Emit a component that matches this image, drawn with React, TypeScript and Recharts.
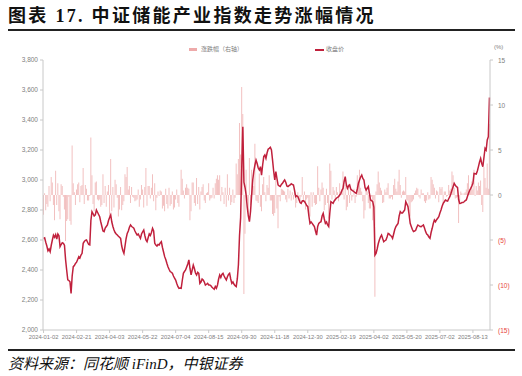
import { ComposedChart, Bar, Line, XAxis, YAxis } from 'recharts';

// 每 30 个交易日一个刻度
const tickLabels = [
  '2024-01-02', '2024-02-21', '2024-04-03', '2024-05-22', '2024-07-04', '2024-08-15', '2024-09-30',
  '2024-11-18', '2024-12-30', '2025-02-19', '2025-04-02', '2025-05-20', '2025-07-02', '2025-08-13',
];

// 收盘价（左轴）
const closeValues = [
  2610, 2614, 2585, 2560, 2528, 2540, 2522, 2565, 2600, 2632,
  2618, 2636, 2606, 2640, 2628, 2556, 2570, 2582, 2578, 2565,
  2470, 2400, 2335, 2330, 2322, 2244, 2360, 2422, 2430, 2444,
  2452, 2470, 2489, 2480, 2500, 2511, 2578, 2590, 2598, 2600,
  2585, 2570, 2567, 2730, 2789, 2775, 2760, 2767, 2800, 2785,
  2770, 2755, 2720, 2690, 2660, 2656, 2680, 2690, 2700, 2730,
  2750, 2767, 2720, 2690, 2667, 2650, 2640, 2633, 2625, 2618,
  2611, 2560, 2530, 2511, 2560, 2610, 2644, 2660, 2685, 2700,
  2690, 2685, 2678, 2660, 2645, 2633, 2640, 2625, 2611, 2640,
  2655, 2667, 2630, 2600, 2589, 2615, 2640, 2630, 2650, 2678,
  2660, 2578, 2567, 2560, 2570, 2567, 2580, 2589, 2550, 2520,
  2489, 2470, 2445, 2422, 2405, 2390, 2385, 2378, 2360, 2345,
  2333, 2310, 2290, 2278, 2280, 2278, 2330, 2378, 2390, 2400,
  2420, 2440, 2467, 2410, 2367, 2400, 2433, 2410, 2380, 2367,
  2385, 2378, 2311, 2320, 2340, 2333, 2320, 2300, 2305, 2311,
  2300, 2300, 2295, 2285, 2278, 2272, 2290, 2278, 2300, 2340,
  2367, 2350, 2370, 2378, 2360, 2345, 2333, 2355, 2370, 2378,
  2340, 2311, 2320, 2305, 2295, 2289, 2342, 2435, 2630, 2749,
  3078, 3355, 2986, 2950, 2900, 2820, 2760, 2722, 2790, 2900,
  3000, 3060, 3100, 3133, 3110, 3080, 3067, 3089, 3033, 3100,
  3156, 3167, 3144, 3180, 3205, 3211, 3218, 3200, 3133, 3060,
  3000, 3056, 3010, 2967, 2960, 2956, 2970, 2978, 2990, 3000,
  2985, 2960, 2956, 2962, 2967, 2975, 2970, 2967, 2930, 2889,
  2895, 2889, 2870, 2850, 2844, 2860, 2862, 2856, 2845, 2830,
  2822, 2760, 2711, 2720, 2711, 2700, 2689, 2660, 2633, 2690,
  2711, 2718, 2722, 2760, 2778, 2740, 2711, 2720, 2700, 2689,
  2780, 2856, 2850, 2844, 2860, 2870, 2878, 2885, 2889, 2900,
  2911, 2930, 2944, 2990, 3022, 2970, 2944, 2960, 2967, 2940,
  2933, 2928, 2922, 2915, 2911, 2940, 2978, 3000, 3020, 3033,
  3010, 3000, 2950, 2933, 2945, 2956, 2910, 2867, 2862, 2856,
  2820, 2500, 2511, 2540, 2575, 2600, 2620, 2633, 2610, 2589,
  2595, 2600, 2620, 2644, 2640, 2630, 2625, 2611, 2640, 2670,
  2689, 2700, 2711, 2760, 2789, 2780, 2780, 2790, 2800, 2856,
  2840, 2822, 2770, 2711, 2690, 2670, 2656, 2660, 2665, 2685,
  2700, 2695, 2690, 2689, 2695, 2700, 2680, 2656, 2640, 2633,
  2620, 2611, 2650, 2678, 2710, 2733, 2722, 2735, 2745, 2756,
  2780, 2800, 2825, 2844, 2855, 2867, 2862, 2860, 2875, 2889,
  2910, 2933, 2955, 2978, 2965, 2956, 2950, 2870, 2844, 2845,
  2850, 2850, 2855, 2862, 2867, 2890, 2911, 2930, 2944, 2960,
  2978, 3044, 3042, 3040, 3060, 3089, 3120, 3144, 3110, 3089,
  3150, 3211, 3200, 3267, 3289, 3550,
];

// 涨跌幅 %（右轴）
const changeValues = [
  -2.2, 0.2, -1.7, -1.0, -1.3, 1.0, -0.7, 2.0, 1.4, -1.1,
  -2.8, 2.7, -1.1, 1.3, -1.8, -2.7, 1.2, 1.0, -0.2, -1.6,
  -5.1, -2.9, -2.7, -0.2, -2.9, -3.3, 5.5, 1.3, 0.3, -1.1,
  0.6, 1.2, 1.4, -0.8, 1.0, 1.1, 3.0, -1.0, 1.1, 0.7,
  -0.6, -0.6, -0.1, 6.4, 2.2, -1.0, -1.8, 1.4, 1.5, -0.5,
  -0.6, -0.5, -1.3, -1.1, 2.3, -0.9, 1.0, -1.3, 0.4, 1.1,
  -2.4, 4.0, -1.8, 0.9, -1.4, 1.7, 1.2, -0.3, -2.4, -1.6,
  0.9, -1.7, -1.1, -0.7, 2.3, 2.0, 3.1, 0.6, 1.0, -0.9,
  0.9, -0.2, -0.3, -0.7, -0.6, -0.5, 0.6, -1.3, -0.5, 1.1,
  0.6, -1.4, 0.9, 3.0, -1.2, 1.0, 1.0, -0.4, 0.8, 2.3,
  -0.7, 1.3, -1.7, -0.3, 0.4, -0.1, 0.5, 0.4, -1.5, -1.2,
  -1.8, 0.7, -1.0, -1.5, 0.8, -1.2, -1.0, 0.4, -1.6, -1.4,
  -0.5, 0.6, -0.9, -1.3, 0.0, 2.8, 1.8, 0.5, -0.4, 0.8,
  1.2, 0.8, 0.7, -2.8, -1.8, 1.4, 1.4, -0.9, -1.2, 1.9,
  -1.0, 0.9, -1.6, 0.4, 0.9, 1.2, -0.6, -0.9, 0.2, 0.3,
  1.3, -0.6, -0.4, -0.3, 0.8, -0.4, 1.3, 1.8, 2.2, 1.7,
  2.2, -0.7, 0.9, 0.3, -1.0, 0.8, -1.3, 2.3, -0.6, 0.8,
  -1.1, -0.8, 0.6, -0.9, -0.3, 3.5, 2.3, 4.0, 8.0, 4.5,
  12.0, 9.0, -11.0, -4.3, 2.8, -0.6, -2.1, 4.1, -1.1, 2.8,
  1.2, 1.0, 5.7, -0.6, -0.7, -0.9, 2.4, -1.3, -1.8, 1.2,
  2.0, 0.3, -0.7, 1.1, 0.8, 2.2, -0.6, -0.6, -2.1, -2.3,
  -2.0, 1.9, -1.5, -3.7, -0.2, -0.7, 0.7, 0.6, 0.5, 0.4,
  -0.5, -0.8, 0.7, -0.4, 0.5, -0.6, 0.3, -0.5, 0.4, -1.4,
  -0.9, 0.3, -0.6, -0.7, -0.2, 2.0, -0.5, 0.4, -1.6, -0.5,
  -0.3, -2.2, -2.4, 0.3, -1.3, 0.3, -0.9, -1.1, -1.0, 3.2,
  0.8, -0.7, 0.6, 1.4, 0.8, -1.7, -1.1, 0.7, -0.9, -2.6,
  3.5, 2.7, -0.5, 0.9, 0.5, -0.6, 0.9, 0.3, -0.7, 1.3,
  0.4, 0.7, 2.6, -0.5, 1.1, -1.7, -1.3, 1.2, -0.9, 0.6,
  -0.6, -0.2, 0.7, -0.9, -0.2, 2.2, 1.3, 2.8, 0.8, 0.4,
  -0.7, -2.6, -1.7, 0.9, 0.4, -0.9, -1.5, -1.5, -0.2, -2.8,
  -0.6, -11.3, 0.4, 1.2, 2.6, 1.4, 0.8, 0.5, -0.9, -0.8,
  0.6, 0.3, 0.8, 1.3, -0.4, -0.4, -0.2, -0.5, 1.1, 1.8,
  0.7, 0.4, 1.5, 2.8, 1.1, -0.3, 0.4, 0.5, 0.4, 2.0,
  -0.6, -0.6, -1.8, -2.4, -0.8, -0.7, -0.5, 0.2, 0.5, 0.8,
  0.7, -0.2, -0.4, 0.6, 0.2, 0.2, -0.7, -0.9, -0.6, 0.3,
  -0.5, -0.4, 2.0, 1.7, 1.2, 0.8, -0.4, 0.5, 0.4, -0.8,
  0.9, 0.7, 0.9, -0.9, 0.4, 0.4, -0.2, -0.1, 1.1, 0.5,
  0.7, 2.6, 2.2, 0.8, -0.4, -0.3, -0.2, -3.1, -0.9, 0.4,
  0.2, 0.0, 0.2, 0.3, 0.6, 1.3, 2.2, 0.6, 0.5, 1.5,
  0.6, 2.8, -0.1, 1.0, 0.5, 1.4, 1.0, 1.6, -1.1, -1.9,
  3.1, 1.9, 0.8, 3.5, 0.7, 7.9,
];

const leftTicks = [2000, 2200, 2400, 2600, 2800, 3000, 3200, 3400, 3600, 3800];
const rightTicks = [-15, -10, -5, 0, 5, 10, 15];

const data = closeValues.map((close, i) => ({ i, close, chg: changeValues[i] }));

const axisFont = '"Liberation Sans", Arial, sans-serif';
const lineColor = '#c0203c';
const barColor = '#f2c0c0';

const RightTick = (props: any) => {
  const { x, y, payload } = props;
  const v = payload.value;
  const neg = v < 0;
  return (
    <text x={x + 3} y={y} dy={2.5} fontSize={6.5} fontFamily={axisFont} fill={neg ? '#e8453c' : '#808080'} textAnchor="start">
      {neg ? `(${-v})` : v}
    </text>
  );
};

const App = () => {
  return (
    <div style={{ position: 'absolute', left: 0, top: 0, width: 522, height: 376, background: '#fff', overflow: 'hidden' }}>
      <div
        style={{
          position: 'absolute', left: 8, top: 6, fontSize: 18, lineHeight: '20px', fontWeight: 700,
          letterSpacing: 2.3, whiteSpace: 'nowrap', color: '#111',
          fontFamily: '"Liberation Serif", "Noto Sans CJK SC", serif',
        }}
      >
        图表 17. 中证储能产业指数走势涨幅情况
      </div>
      <div style={{ position: 'absolute', left: 8, top: 29, width: 507, height: 2, background: '#222' }} />

      {/* legend */}
      <div style={{ position: 'absolute', left: 189, top: 48, width: 8, height: 3, background: '#eeaaaa' }} />
      <div style={{ position: 'absolute', left: 201, top: 45, fontSize: 6, lineHeight: '8px', color: '#808080', fontFamily: '"Noto Sans CJK SC", sans-serif', whiteSpace: 'nowrap' }}>
        涨跌幅（右轴）
      </div>
      <div style={{ position: 'absolute', left: 315, top: 49, width: 9, height: 1.5, background: lineColor }} />
      <div style={{ position: 'absolute', left: 326, top: 45, fontSize: 6, lineHeight: '8px', color: '#808080', fontFamily: '"Noto Sans CJK SC", sans-serif', whiteSpace: 'nowrap' }}>
        收盘价
      </div>
      <div style={{ position: 'absolute', left: 494, top: 43, fontSize: 6, lineHeight: '8px', color: '#808080', fontFamily: axisFont }}>
        (%)
      </div>

      <div style={{ position: 'absolute', left: 0, top: 0 }}>
        <ComposedChart width={522} height={376} data={data} margin={{ top: 60, right: 0, bottom: 30, left: 0 }} barCategoryGap={0}>
          <XAxis
            dataKey="i"
            interval={29}
            height={16}
            tickSize={3}
            tickFormatter={(v: number) => tickLabels[v / 30] ?? ''}
            tick={{ fontSize: 5.8, fill: '#808080', fontFamily: axisFont }}
            axisLine={{ stroke: '#c8c8c8' }}
            tickLine={{ stroke: '#c8c8c8' }}
          />
          <YAxis
            yAxisId="left"
            orientation="left"
            width={43}
            domain={[2000, 3800]}
            ticks={leftTicks}
            tickSize={3}
            tickFormatter={(v: number) => v.toLocaleString('en-US')}
            tick={{ fontSize: 6.5, fill: '#808080', fontFamily: axisFont }}
            axisLine={{ stroke: '#c8c8c8' }}
            tickLine={{ stroke: '#c8c8c8' }}
            allowDataOverflow
          />
          <YAxis
            yAxisId="right"
            orientation="right"
            width={32}
            domain={[-15, 15]}
            ticks={rightTicks}
            tickSize={3}
            tick={<RightTick />}
            axisLine={{ stroke: '#c8c8c8' }}
            tickLine={{ stroke: '#c8c8c8' }}
            allowDataOverflow
          />
          <Bar yAxisId="right" dataKey="chg" fill={barColor} barSize={1} isAnimationActive={false} />
          <Line yAxisId="left" type="linear" dataKey="close" stroke={lineColor} strokeWidth={1.5} dot={false} isAnimationActive={false} />
        </ComposedChart>
      </div>

      <div style={{ position: 'absolute', left: 8, top: 349, width: 507, height: 2, background: '#222' }} />
      <div
        style={{
          position: 'absolute', left: 8, top: 355, fontSize: 15, lineHeight: '18px', fontStyle: 'italic',
          color: '#111', whiteSpace: 'nowrap', fontFamily: '"Liberation Serif", "Noto Sans CJK SC", serif',
        }}
      >
        资料来源：同花顺 iFinD，中银证券
      </div>
    </div>
  );
};

export default App;
